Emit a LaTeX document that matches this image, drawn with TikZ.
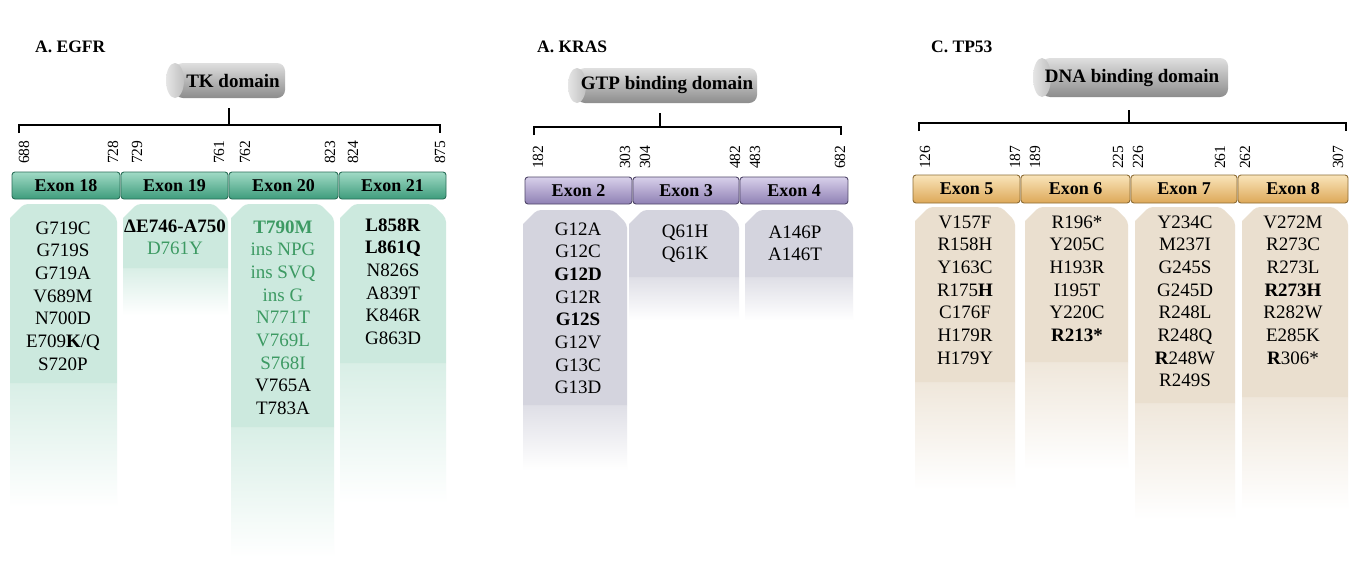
\documentclass[tikz,border=0pt]{standalone}
\usepackage{fontspec}
\setmainfont{Liberation Serif}
\definecolor{tgreen}{HTML}{3D9A63}
\definecolor{egtop}{HTML}{B8E8D6}
\definecolor{egmid}{HTML}{62C29F}
\definecolor{egbot}{HTML}{3E9C7C}
\definecolor{egbrd}{HTML}{2A6E58}
\definecolor{egbox}{HTML}{CCE9DE}
\definecolor{krtop}{HTML}{E4DCF2}
\definecolor{krmid}{HTML}{BDB0DC}
\definecolor{krbot}{HTML}{8F80B4}
\definecolor{krbrd}{HTML}{4F4668}
\definecolor{krbox}{HTML}{D4D4DE}
\definecolor{tptop}{HTML}{FDEDC6}
\definecolor{tpmid}{HTML}{F5D38C}
\definecolor{tpbot}{HTML}{DDA858}
\definecolor{tpbrd}{HTML}{8C6C35}
\definecolor{tpbox}{HTML}{EADFCF}
\tikzset{
  every node/.style={inner sep=0pt},
  mut/.style={anchor=base, font=\fontsize{19}{20}\selectfont},
  num/.style={rotate=90, anchor=west, font=\fontsize{15.5}{16}\selectfont},
  ttl/.style={anchor=west, font=\bfseries\fontsize{17.5}{18}\selectfont},
  domtext/.style={font=\bfseries\fontsize{19}{20}\selectfont},
  exonlbl/.style={font=\bfseries\fontsize{18}{18}\selectfont},
  bracket/.style={line width=1.5pt, black},
}
\newcommand\exbar[9]{%
  \shade[top color=#6!60!white, middle color=#6, bottom color=#7, draw=#8, line width=0.9pt, rounded corners=3pt] (#2,#4) rectangle (#3,#5);
  \node[exonlbl] (#1) at ({(#2+#3)/2},{(#4+#5)/2}) {#9};}
\newcommand\mutbox[6]{%
  \shade[top color=#6!75!white, bottom color=white] (#1,#4) rectangle (#2,#5);
  \fill[#6, rounded corners=4pt] (#1,#3+14) -- (#1+14,#3) -- (#2-14,#3) -- (#2,#3+14) [sharp corners] -- (#2,#4) -- (#1,#4) -- cycle;}
\newcommand\cyl[4]{%
  \shade[top color=gray!25, middle color=gray!55, bottom color=gray!90, rounded corners=8pt] (#1+9,#3) rectangle (#2,#4);
  \shade[left color=gray!20, right color=gray!50] (#1+9,{(#3+#4)/2}) ellipse [x radius=9pt, y radius={(#4-#3)/2*1pt}];}
\newcommand\muts[4]{\foreach \mtxt [count=\i from 0] in {#4} {\node[mut] (#1-\i) at (#2,{#3+\i*22.7}) {\mtxt};}}
\begin{document}
\begin{tikzpicture}[x=1pt,y=-1pt]
\useasboundingbox (0,0) rectangle (1351,563);
\fill[white] (0,0) rectangle (1351,563);
% titles
\node[ttl] (t1) at (35,47) {A. EGFR};
\node[ttl] (t2) at (537,47) {A. KRAS};
\node[ttl] (t3) at (931,47) {C. TP53};
% ---------------- EGFR
\cyl{166}{285}{63}{98}
\node[domtext] (tk) at (233,81) {TK domain};
\coordinate (egTick) at (229,108);
\coordinate (egL) at (19,133);
\coordinate (egR) at (440,133);
\draw[bracket] (egL) -- ++(0,-8) -| (egR);
\draw[bracket] (egTick) -- (egTick |- 0,125);
\foreach \n/\x in {688/24,728/113,729/137,761/219,762/245,823/330,824/353,875/440}
  \node[num] (eg\n) at (\x,164) {\n};
\mutbox{10}{117}{204}{383}{507}{egbox}
\mutbox{123}{228}{204}{268}{315}{egbox}
\mutbox{231}{334}{204}{427}{557}{egbox}
\mutbox{340}{446}{204}{363}{503}{egbox}
\exbar{ex18}{12}{120}{172}{199}{egmid}{egbot}{egbrd}{Exon 18}
\exbar{ex19}{121}{228}{172}{199}{egmid}{egbot}{egbrd}{Exon 19}
\exbar{ex20}{229}{338}{172}{199}{egmid}{egbot}{egbrd}{Exon 20}
\exbar{ex21}{339}{446}{172}{199}{egmid}{egbot}{egbrd}{Exon 21}
\muts{m18}{63}{234}{G719C,G719S,G719A,V689M,N700D,E709\textbf{K}/Q,S720P}
\muts{m19}{175}{232}{\textbf{ΔE746-A750},{\color{tgreen}D761Y}}
\muts{m20}{283}{233}{{\color{tgreen}\textbf{T790M}},{\color{tgreen}ins NPG},{\color{tgreen}ins SVQ},{\color{tgreen}ins G},{\color{tgreen}N771T},{\color{tgreen}V769L},{\color{tgreen}S768I},V765A,T783A}
\muts{m21}{393}{231}{\textbf{L858R},\textbf{L861Q},N826S,A839T,K846R,G863D}
% ---------------- KRAS
\cyl{568}{757}{68}{103}
\node[domtext] (gtp) at (667,85) {GTP binding domain};
\coordinate (krTick) at (660,113);
\coordinate (krL) at (534,135);
\coordinate (krR) at (841,135);
\draw[bracket] (krL) -- ++(0,-8) -| (krR);
\draw[bracket] (krTick) -- (krTick |- 0,127);
\foreach \n/\x in {182/538,303/625,304/645,482/735,483/755,682/840}
  \node[num] (kr\n) at (\x,169) {\n};
\mutbox{523}{627}{210}{405}{470}{krbox}
\mutbox{629}{739}{210}{277}{320}{krbox}
\mutbox{745}{853}{210}{277}{320}{krbox}
\exbar{ex2}{525}{632}{177}{204}{krmid}{krbot}{krbrd}{Exon 2}
\exbar{ex3}{633}{739}{177}{204}{krmid}{krbot}{krbrd}{Exon 3}
\exbar{ex4}{740}{848}{177}{204}{krmid}{krbot}{krbrd}{Exon 4}
\muts{m2}{578}{235}{G12A,G12C,\textbf{G12D},G12R,\textbf{G12S},G12V,G13C,G13D}
\muts{m3}{685}{237}{Q61H,Q61K}
\muts{m4}{795}{238}{A146P,A146T}
% ---------------- TP53
\cyl{1033}{1228}{58}{97}
\node[domtext] (dna) at (1132,78) {DNA binding domain};
\coordinate (tpTick) at (1129,110);
\coordinate (tpL) at (919,131);
\coordinate (tpR) at (1346,131);
\draw[bracket] (tpL) -- ++(0,-8) -| (tpR);
\draw[bracket] (tpTick) -- (tpTick |- 0,123);
\foreach \n/\x in {126/925,187/1015,189/1035,225/1118,226/1138,261/1220,262/1245,307/1338}
  \node[num] (tp\n) at (\x,169) {\n};
\mutbox{915}{1015}{207}{382}{490}{tpbox}
\mutbox{1025}{1128}{207}{362}{470}{tpbox}
\mutbox{1135}{1235}{207}{403}{520}{tpbox}
\mutbox{1242}{1348}{207}{397}{510}{tpbox}
\exbar{ex5}{913}{1020}{175}{203}{tpmid}{tpbot}{tpbrd}{Exon 5}
\exbar{ex6}{1021}{1130}{175}{203}{tpmid}{tpbot}{tpbrd}{Exon 6}
\exbar{ex7}{1131}{1237}{175}{203}{tpmid}{tpbot}{tpbrd}{Exon 7}
\exbar{ex8}{1238}{1348}{175}{203}{tpmid}{tpbot}{tpbrd}{Exon 8}
\muts{m5}{965}{228}{V157F,R158H,Y163C,R175\textbf{H},C176F,H179R,H179Y}
\muts{m6}{1077}{228}{R196*,Y205C,H193R,I195T,Y220C,\textbf{R213*}}
\muts{m7}{1185}{228}{Y234C,M237I,G245S,G245D,R248L,R248Q,\textbf{R}248W,R249S}
\muts{m8}{1293}{228}{V272M,R273C,R273L,\textbf{R273H},R282W,E285K,\textbf{R}306*}
\end{tikzpicture}
\end{document}
